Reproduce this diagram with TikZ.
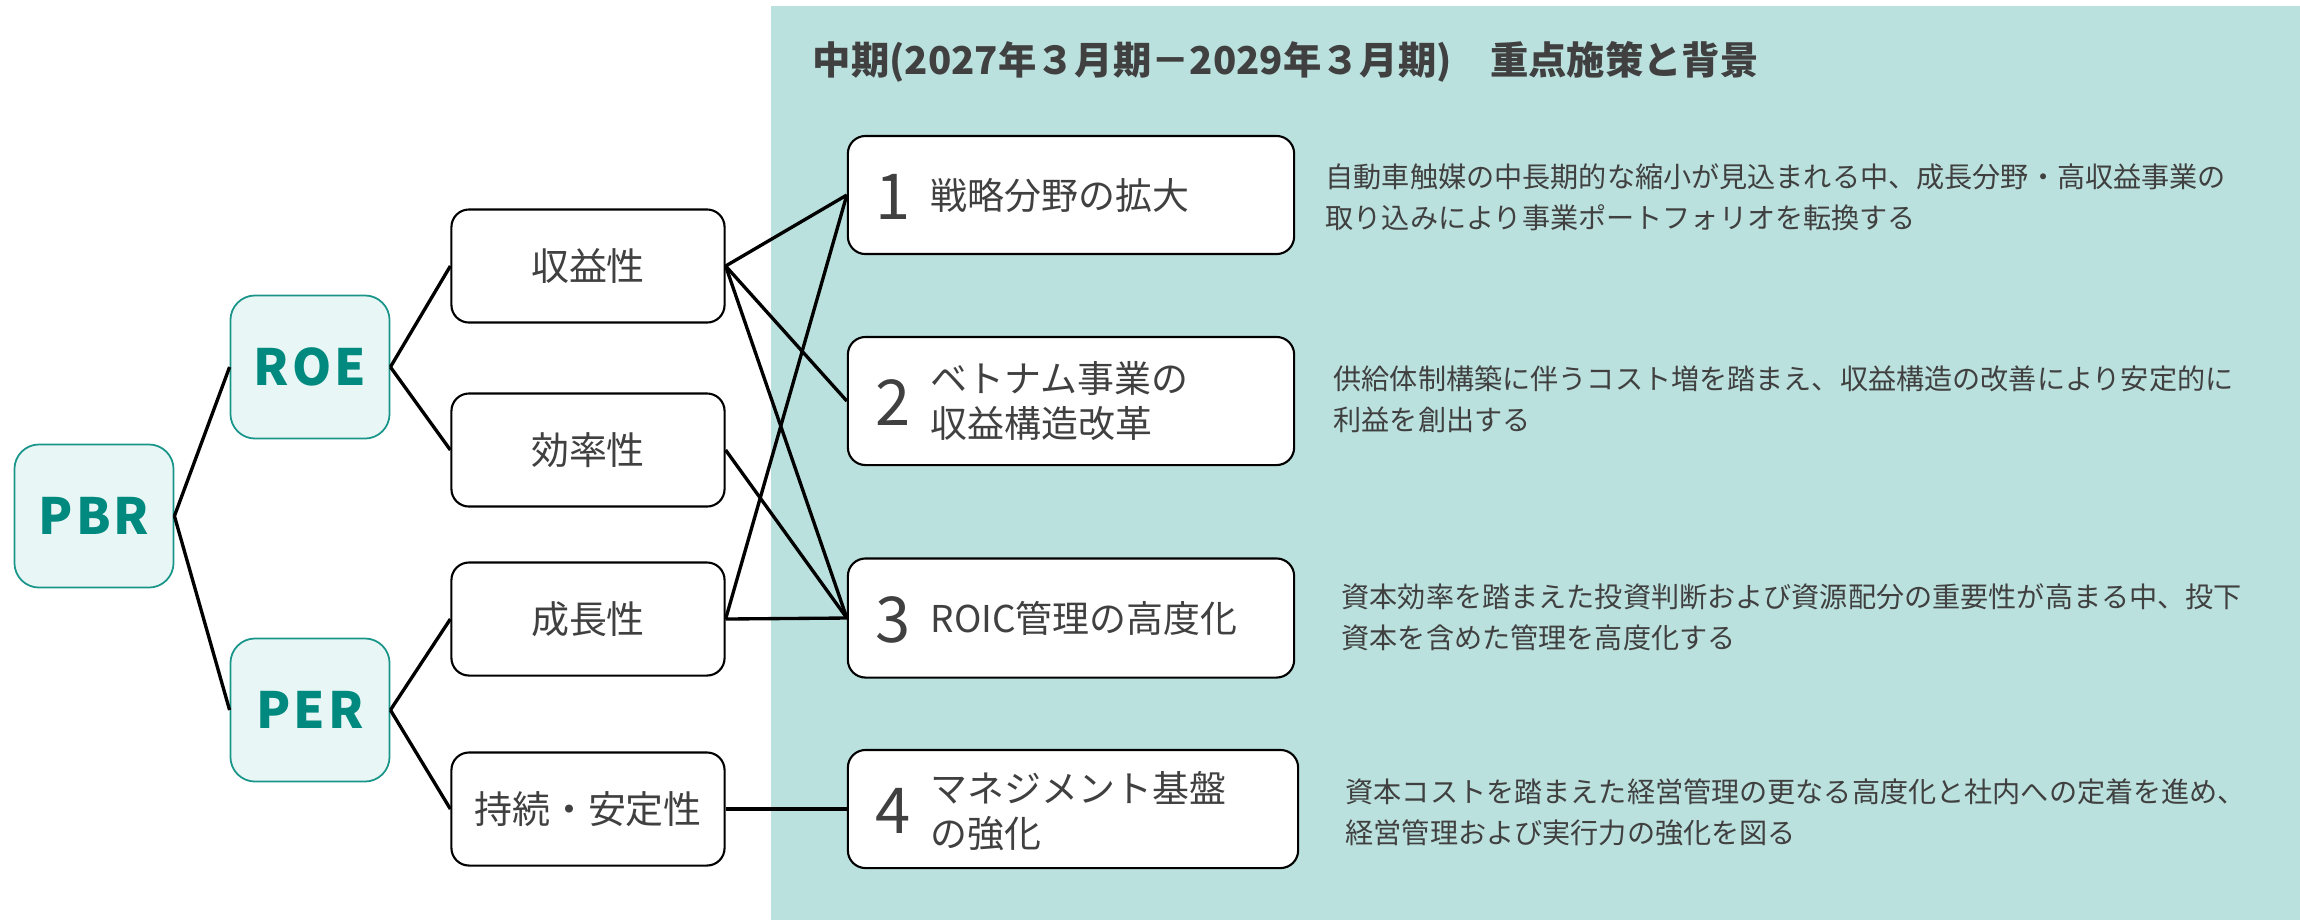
\documentclass[tikz,border=0pt]{standalone}
\usepackage{fontspec}
\setmainfont{Noto Sans CJK JP}
\definecolor{panel}{HTML}{BBE1DE}
\definecolor{lightteal}{HTML}{E8F6F5}
\definecolor{tealdark}{HTML}{1A958A}
\definecolor{tealtext}{HTML}{00897E}
\definecolor{txt}{HTML}{404040}
\begin{document}
\begin{tikzpicture}[x=0.01cm,y=-0.01cm,
 keybox/.style={draw=tealdark, line width=0.5pt, fill=lightteal, rounded corners=7pt, minimum width=1.59cm, minimum height=1.43cm, inner sep=0pt, font=\bfseries\fontsize{14.2}{16}\selectfont\addfontfeature{LetterSpace=6}, text=tealtext},
 midbox/.style={draw=black, line width=0.6pt, fill=white, rounded corners=5pt, minimum width=2.73cm, minimum height=1.13cm, inner sep=0pt, font=\fontsize{10.8}{13}\selectfont, text=txt},
 planbox/.style={draw=black, line width=0.6pt, fill=white, rounded corners=5pt, minimum width=4.46cm, inner sep=0pt},
 num/.style={font=\fontsize{18}{20}\selectfont, text=txt, inner sep=0pt},
 plantext/.style={font=\fontsize{10.5}{12.8}\selectfont, text=txt, align=left, anchor=west, inner sep=0pt},
 desc/.style={font=\fontsize{8}{11.66}\selectfont, text=txt, align=left, anchor=west, inner sep=0pt},
 link/.style={line width=0.95pt, draw=black},
]
\useasboundingbox (0,0) rectangle (2300,920);
\fill[white] (0,0) rectangle (2300,920);
\fill[panel] (771,6) rectangle (2300,920);

\node[anchor=west, inner sep=0pt, text=txt, font=\bfseries\fontsize{10.9}{13}\selectfont] (title) at (812,62) {中期(2027年３月期－2029年３月期)　重点施策と背景};

% key boxes
\node[keybox] (pbr) at (94,516) {PBR};
\node[keybox] (roe) at (310,367) {ROE};
\node[keybox] (per) at (310,710) {PER};

% middle boxes
\node[midbox] (m1) at (588,266) {収益性};
\node[midbox] (m2) at (588,450) {効率性};
\node[midbox] (m3) at (588,619) {成長性};
\node[midbox] (m4) at (588,809) {持続・安定性};

% plan boxes
\node[planbox, minimum height=1.18cm] (b1) at (1071,195) {};
\node[planbox, minimum height=1.28cm] (b2) at (1071,401) {};
\node[planbox, minimum height=1.19cm] (b3) at (1071,618) {};
\node[planbox, minimum height=1.18cm, minimum width=4.50cm] (b4) at (1073,809) {};

\node[num] (n1) at (893,197) {1};
\node[num] (n2) at (893,403) {2};
\node[num] (n3) at (893,620) {3};
\node[num] (n4) at (893,811) {4};

\node[plantext] (t1) at (930,195) {戦略分野の拡大};
\node[plantext] (t2) at (930,401) {ベトナム事業の\\収益構造改革};
\node[plantext] (t3) at (930,618) {ROIC管理の高度化};
\node[plantext] (t4) at (930,811) {マネジメント基盤\\の強化};

% descriptions
\node[desc] (d1) at (1325,197) {自動車触媒の中長期的な縮小が見込まれる中、成長分野・高収益事業の\\取り込みにより事業ポートフォリオを転換する};
\node[desc] (d2) at (1333,399) {供給体制構築に伴うコスト増を踏まえ、収益構造の改善により安定的に\\利益を創出する};
\node[desc] (d3) at (1341,617) {資本効率を踏まえた投資判断および資源配分の重要性が高まる中、投下\\資本を含めた管理を高度化する};
\node[desc] (d4) at (1345,812) {資本コストを踏まえた経営管理の更なる高度化と社内への定着を進め、\\経営管理および実行力の強化を図る};

% connectors
\draw[link] (pbr.east) -- (roe.west);
\draw[link] (pbr.east) -- (per.west);
\draw[link] (roe.east) -- (m1.west);
\draw[link] (roe.east) -- (m2.west);
\draw[link] (per.east) -- (m3.west);
\draw[link] (per.east) -- (m4.west);
\draw[link] (m1.east) -- (b1.west);
\draw[link] (m1.east) -- (b2.west);
\draw[link] (m1.east) -- (b3.west);
\draw[link] (m2.east) -- (b3.west);
\draw[link] (m3.east) -- (b1.west);
\draw[link] (m3.east) -- (b3.west);
\draw[link] (m4.east) -- (b4.west);
\end{tikzpicture}
\end{document}
